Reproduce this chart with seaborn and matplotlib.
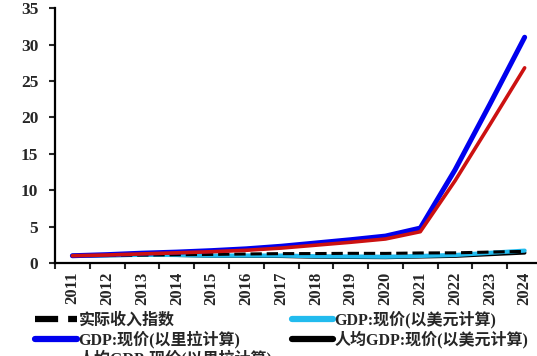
import numpy as np
import pandas as pd
import matplotlib
matplotlib.use("Agg")
import matplotlib.pyplot as plt
import seaborn as sns

years = [str(y) for y in range(2011, 2025)]

real_income = [1.0, 1.04, 1.09, 1.13, 1.18, 1.24, 1.29, 1.30, 1.33, 1.32, 1.38, 1.40, 1.50, 1.60]
gdp_lira = [1.0, 1.15, 1.35, 1.5, 1.7, 1.95, 2.3, 2.75, 3.2, 3.7, 4.8, 12.8, 21.8, 31.0]
gdp_pc_lira = [1.0, 1.1, 1.25, 1.4, 1.55, 1.75, 2.05, 2.45, 2.85, 3.3, 4.3, 11.3, 19.0, 26.8]
gdp_usd = [1.0, 1.05, 1.12, 1.1, 1.02, 1.03, 1.02, 0.93, 0.9, 0.86, 0.97, 1.1, 1.4, 1.7]
gdp_pc_usd = [1.0, 1.03, 1.1, 1.07, 0.97, 0.96, 0.93, 0.83, 0.8, 0.77, 0.86, 0.95, 1.18, 1.4]

series = {
    "实际收入指数": real_income,
    "GDP:现价(以里拉计算)": gdp_lira,
    "人均GDP:现价(以里拉计算)": gdp_pc_lira,
    "GDP:现价(以美元计算)": gdp_usd,
    "人均GDP:现价(以美元计算)": gdp_pc_usd,
}

sns.set_style("ticks")
plt.rcParams['font.family'] = ['Liberation Serif', 'Noto Sans CJK SC']
plt.rcParams['font.weight'] = 'bold'

fig = plt.figure(figsize=(5.37, 3.56), dpi=100)
ax = fig.add_axes([0.1024, 0.2612, 0.907, 0.716])

x = np.arange(len(years))
styles = {
    "实际收入指数": dict(color="black", lw=2.2, ls="--", z=3),
    "GDP:现价(以里拉计算)": dict(color="#0000ee", lw=3.6, ls="-", z=4),
    "人均GDP:现价(以里拉计算)": dict(color="#cc1111", lw=2.6, ls="-", z=5),
    "GDP:现价(以美元计算)": dict(color="#22bbee", lw=3.0, ls="-", z=2),
    "人均GDP:现价(以美元计算)": dict(color="black", lw=2.6, ls="-", z=1),
}

for name, vals in series.items():
    st = styles[name]
    sns.lineplot(x=x, y=vals, ax=ax, color=st["color"], lw=st["lw"],
                 linestyle=st["ls"], label=name, zorder=st["z"],
                 solid_capstyle="round", solid_joinstyle="round")

ax.set_xlim(-0.5, 13.5)
ax.set_ylim(0, 35)
ax.set_yticks(range(0, 36, 5))
ax.set_xticks(np.arange(-0.5, 14, 1))
ax.set_xticklabels([])
ax.set_xticks(x, minor=True)
ax.set_xticklabels(years, minor=True, rotation=90, fontsize=12, fontweight="bold")
ax.tick_params(axis="x", which="minor", length=0, pad=6)
ax.tick_params(axis="x", which="major", length=4, width=1.5, direction="out")
ax.tick_params(axis="y", length=4, width=1.5, labelsize=12.5, pad=8)
for lab in ax.get_yticklabels():
    lab.set_fontweight("bold")

sns.despine(ax=ax)
for s in ["left", "bottom"]:
    ax.spines[s].set_linewidth(1.6)
    ax.spines[s].set_color("black")

handles, labels = ax.get_legend_handles_labels()
ax.get_legend().remove()
leg = fig.legend(handles, labels, loc="upper left", bbox_to_anchor=(0.06, 0.135),
                 ncol=2, frameon=False, fontsize=11.5, handlelength=2.6,
                 handletextpad=0.1, columnspacing=1.2, labelspacing=0.1,
                 borderaxespad=0.0, borderpad=0.2)
for line in leg.get_lines():
    line.set_linewidth(4.5)

fig.savefig("out.png", dpi=100)
